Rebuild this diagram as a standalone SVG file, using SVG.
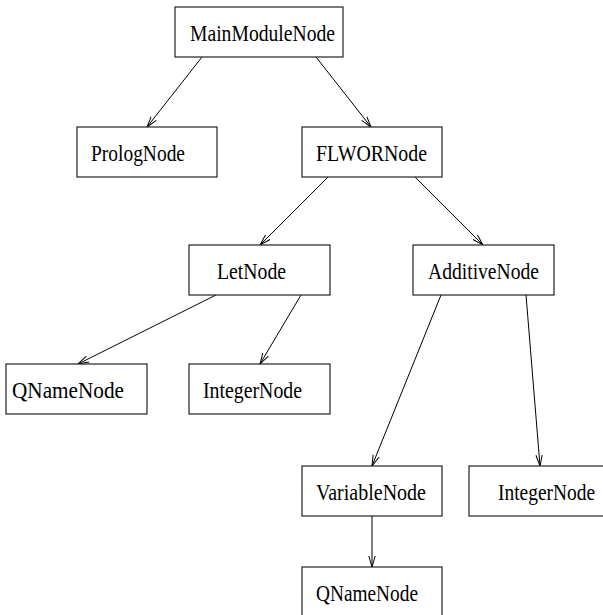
<svg xmlns="http://www.w3.org/2000/svg" width="603" height="615" viewBox="0 0 603 615">
<defs>
<marker id="arr" markerUnits="userSpaceOnUse" markerWidth="14" markerHeight="10" viewBox="0 -5 14 10" refX="11" refY="0" orient="auto">
<path d="M0,-3.2 L11,0 L0,3.2" fill="none" stroke="#000" stroke-width="1"/>
</marker>
<style>
rect{fill:#fff;stroke:#222;stroke-width:1.2}
text{font-family:"Liberation Serif","Times New Roman",serif;font-size:23px;fill:#000}
.e line{stroke:#000;stroke-width:1;marker-end:url(#arr)}
</style>
</defs>
<rect x="0" y="0" width="603" height="615" style="fill:#fff;stroke:none"/>
<g class="e" id="connectors">
<line x1="202" y1="57" x2="147" y2="127"/>
<line x1="316" y1="57" x2="371" y2="127"/>
<line x1="328" y1="177" x2="260" y2="245"/>
<line x1="415" y1="177" x2="483" y2="245"/>
<line x1="216" y1="295" x2="78" y2="364"/>
<line x1="301" y1="295" x2="260" y2="364"/>
<line x1="441" y1="295" x2="372" y2="466"/>
<line x1="526" y1="295" x2="540" y2="466"/>
<line x1="372" y1="516" x2="372" y2="567"/>
</g>
<g id="mainmodule"><rect x="175" y="7" width="168" height="50"/><text x="190" y="41" textLength="145" lengthAdjust="spacingAndGlyphs">MainModuleNode</text></g>
<g id="prolog"><rect x="77" y="127" width="140" height="50"/><text x="91" y="161" textLength="94" lengthAdjust="spacingAndGlyphs">PrologNode</text></g>
<g id="flwor"><rect x="302" y="127" width="140" height="50"/><text x="316" y="161" textLength="111" lengthAdjust="spacingAndGlyphs">FLWORNode</text></g>
<g id="let"><rect x="189" y="245" width="141" height="50"/><text x="217" y="279" textLength="69" lengthAdjust="spacingAndGlyphs">LetNode</text></g>
<g id="additive"><rect x="413" y="245" width="141" height="50"/><text x="428" y="279" textLength="111" lengthAdjust="spacingAndGlyphs">AdditiveNode</text></g>
<g id="qname1"><rect x="6" y="364" width="141" height="50"/><text x="12" y="398" textLength="112" lengthAdjust="spacingAndGlyphs">QNameNode</text></g>
<g id="integer1"><rect x="189" y="364" width="141" height="50"/><text x="203" y="398" textLength="99" lengthAdjust="spacingAndGlyphs">IntegerNode</text></g>
<g id="variable"><rect x="302" y="466" width="140" height="50"/><text x="316" y="500" textLength="110" lengthAdjust="spacingAndGlyphs">VariableNode</text></g>
<g id="integer2"><rect x="469" y="466" width="150" height="50"/><text x="498" y="500" textLength="97" lengthAdjust="spacingAndGlyphs">IntegerNode</text></g>
<g id="qname2"><rect x="302" y="567" width="140" height="60"/><text x="316" y="601" textLength="102" lengthAdjust="spacingAndGlyphs">QNameNode</text></g>
</svg>
